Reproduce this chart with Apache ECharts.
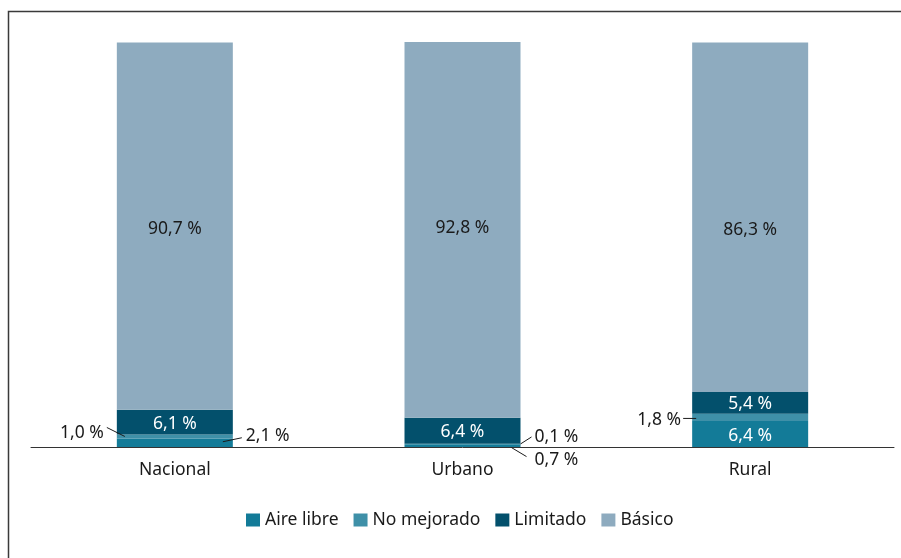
<!DOCTYPE html>
<html>
<head>
<meta charset="utf-8">
<script src="https://cdn.jsdelivr.net/npm/echarts@6/dist/echarts.min.js"></script>
<style>html,body{margin:0;padding:0;background:#fff}#c{width:901px;height:558px}</style>
</head>
<body>
<div id="c"></div>
<script>
const categories = ['Nacional', 'Urbano', 'Rural'];
const seriesNames = ['Aire libre', 'No mejorado', 'Limitado', 'Básico'];
const aireLibre = [2.1, 0.7, 6.4];
const noMejorado = [1.0, 0.1, 1.8];
const limitado = [6.1, 6.4, 5.4];
const basico = [90.7, 92.8, 86.3];
const colors = ['#137b98', '#3f90a8', '#03506c', '#8eabbf'];

const FONT = '"Noto Sans", Lato, sans-serif';
const FS = 17.5;
const fmt = v => v.toFixed(1).replace('.', ',') + ' %';

const chart = echarts.init(document.getElementById('c'));

function insideLabel(color, extra) {
  return Object.assign({ show: true, position: 'inside', color: color, fontFamily: FONT, fontSize: FS, offset: [0, 1.5], formatter: p => fmt(p.value) }, extra || {});
}
const outside = { show: true, color: '#1a1a1a', fontFamily: FONT, fontSize: FS, formatter: p => fmt(p.value) };

function dataWith(values, overrides) {
  return values.map((v, i) => overrides[i] ? { value: v, label: overrides[i] } : { value: v });
}

const series = [
  {
    name: seriesNames[0], type: 'bar', stack: 't', barWidth: 116, itemStyle: { color: colors[0] },
    data: dataWith(aireLibre, {
      0: Object.assign({}, outside, { position: 'right', distance: 0, offset: [13, -7] }),
      1: Object.assign({}, outside, { position: 'right', distance: 0, offset: [14, 14] }),
      2: insideLabel('#ffffff')
    })
  },
  {
    name: seriesNames[1], type: 'bar', stack: 't', barWidth: 116, itemStyle: { color: colors[1] },
    data: dataWith(noMejorado, {
      0: Object.assign({}, outside, { position: 'left', distance: 0, offset: [-13, -3.5] }),
      1: Object.assign({}, outside, { position: 'right', distance: 0, offset: [14, -7] }),
      2: Object.assign({}, outside, { position: 'left', distance: 0, offset: [-11, 3] })
    })
  },
  {
    name: seriesNames[2], type: 'bar', stack: 't', barWidth: 116, itemStyle: { color: colors[2] },
    label: insideLabel('#ffffff'), data: limitado
  },
  {
    name: seriesNames[3], type: 'bar', stack: 't', barWidth: 116, itemStyle: { color: colors[3] },
    data: dataWith(basico, {
      0: insideLabel('#1a1a1a', { offset: [0, 3] }),
      1: insideLabel('#1a1a1a', { offset: [0, -2] }),
      2: insideLabel('#1a1a1a', { offset: [0, 13] })
    })
  }
];

chart.setOption({
  animation: false,
  grid: { left: 31, right: 7, top: 42, bottom: 111, containLabel: false },
  legend: {
    data: seriesNames, left: 241, top: 506, itemWidth: 14, itemHeight: 13, itemGap: 15,
    icon: 'rect', textStyle: { fontFamily: FONT, fontSize: FS, color: '#1a1a1a' }
  },
  xAxis: {
    type: 'category', data: categories,
    axisLine: { lineStyle: { color: '#333', width: 1 } },
    axisTick: { show: false },
    axisLabel: { fontFamily: FONT, fontSize: FS, color: '#1a1a1a', margin: 14 }
  },
  yAxis: { type: 'value', min: 0, max: 100, show: false, splitLine: { show: false } },
  series: series
});

// leader lines, positioned from the chart's own scales
function px(cat, val) { return chart.convertToPixel({ xAxisIndex: 0, yAxisIndex: 0 }, [cat, val]); }
const lines = [];
function seg(ci, lo, hi) { return px(ci, (lo + hi) / 2); }
let p = seg(0, aireLibre[0], aireLibre[0] + noMejorado[0]);
lines.push([[p[0] - 68, p[1] - 9], [p[0] - 50, p[1]]]);
p = seg(0, 0, aireLibre[0]);
lines.push([[p[0] + 48, p[1] - 1], [p[0] + 67, p[1] - 5]]);
p = seg(1, aireLibre[1], aireLibre[1] + noMejorado[1]);
lines.push([[p[0] + 58, p[1]], [p[0] + 69, p[1] - 7]]);
p = seg(1, 0, aireLibre[1]);
lines.push([[p[0] + 49, p[1] + 2], [p[0] + 64, p[1] + 11]]);
p = seg(2, aireLibre[2], aireLibre[2] + noMejorado[2]);
lines.push([[p[0] - 67, p[1] + 1], [p[0] - 54, p[1] + 1]]);

const graphics = lines.map(l => ({
  type: 'line', shape: { x1: l[0][0], y1: l[0][1], x2: l[1][0], y2: l[1][1] },
  style: { stroke: '#1a1a1a', lineWidth: 1 }, z: 100
}));
graphics.push({
  type: 'polyline', shape: { points: [[8.5, 558], [8.5, 11.5], [901, 11.5]] },
  style: { stroke: '#3a3a3a', lineWidth: 1.5, fill: null }, z: 100
});
chart.setOption({ graphic: graphics });
</script>
</body>
</html>
